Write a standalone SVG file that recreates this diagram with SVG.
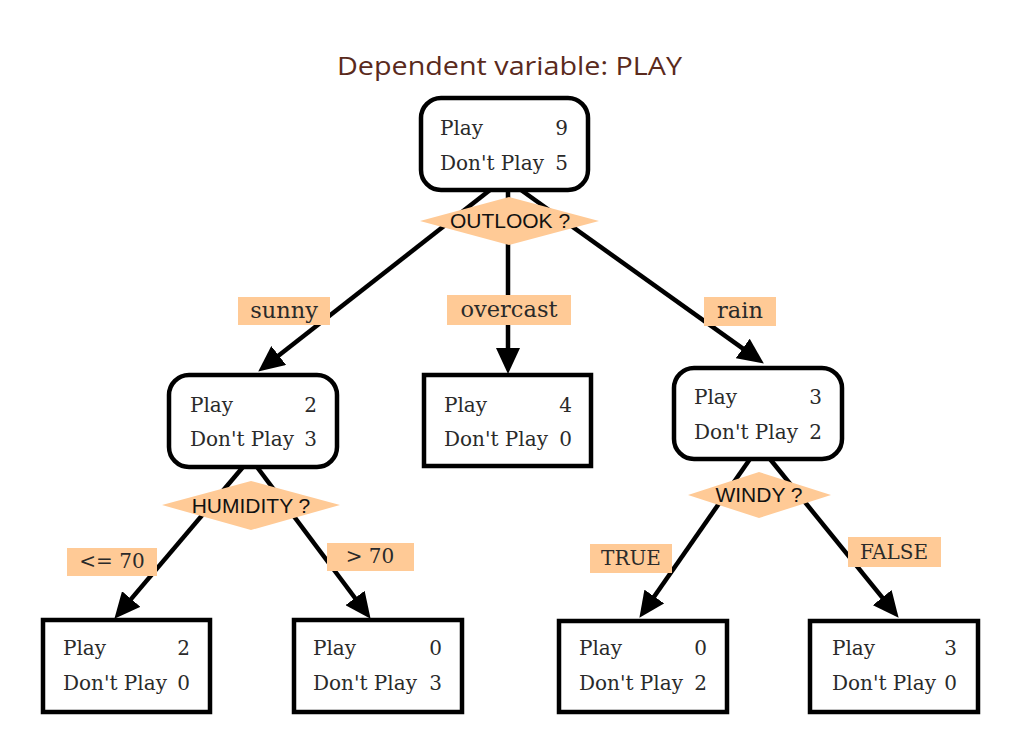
<svg xmlns="http://www.w3.org/2000/svg" width="1012" height="742" viewBox="0 0 1012 742">
<defs>
<marker id="arr" markerUnits="userSpaceOnUse" markerWidth="26" markerHeight="24" viewBox="0 0 26 24" refX="15" refY="12" orient="auto">
<path d="M0,0 L26,12 L0,24 z" fill="#000"/>
</marker>
</defs>
<style>
.title{font-family:"Open Sans","Liberation Sans",sans-serif;font-size:26px;fill:#5a2a1c}
.node{fill:#fff;stroke:#000;stroke-width:4.5}
.nt{font-family:"DejaVu Serif","Liberation Serif",serif;font-size:20px;fill:#2a2a2a}
.num{text-anchor:end}
.edge{fill:none;stroke:#000;stroke-width:4.5;marker-end:url(#arr)}
.lbl{fill:#ffca96}
.lt{font-family:"DejaVu Serif","Liberation Serif",serif;font-size:20px;fill:#2a2a2a;text-anchor:middle}
.big{font-size:22.5px}
.dia{fill:#ffca96}
.dt{font-family:"Liberation Sans",Arial,sans-serif;font-size:21px;fill:#111;text-anchor:middle}
</style>
<rect width="1012" height="742" fill="#fff"/>
<text class="title" x="337" y="75" textLength="345" lengthAdjust="spacingAndGlyphs">Dependent variable: PLAY</text>

<g id="connectors">
<path class="edge" d="M490,190 L266.9,364.8"/>
<path class="edge" d="M508,190 L508,363"/>
<path class="edge" d="M521,190 L754.9,357.2"/>
<path class="edge" d="M243,467 L121.5,610.4"/>
<path class="edge" d="M257,467 L364,610"/>
<path class="edge" d="M750,459 L645.7,608.8"/>
<path class="edge" d="M770,459 L891.7,609.2"/>
<g id="label-sunny"><rect class="lbl" x="238" y="297" width="92" height="28"/><text class="lt big" x="284" y="318">sunny</text></g>
<g id="label-overcast"><rect class="lbl" x="447" y="295" width="124" height="30"/><text class="lt big" x="509" y="317">overcast</text></g>
<g id="label-rain"><rect class="lbl" x="704" y="297" width="72" height="29"/><text class="lt big" x="740" y="318">rain</text></g>
<g id="label-le70"><rect class="lbl" x="67" y="548" width="90" height="28"/><text class="lt" x="112" y="568">&lt;= 70</text></g>
<g id="label-gt70"><rect class="lbl" x="327" y="543" width="87" height="28"/><text class="lt" x="370" y="563">&gt; 70</text></g>
<g id="label-true"><rect class="lbl" x="590" y="544" width="82" height="29"/><text class="lt" x="631" y="565">TRUE</text></g>
<g id="label-false"><rect class="lbl" x="848" y="537" width="93" height="30"/><text class="lt" x="894" y="559">FALSE</text></g>
</g>

<g id="split-outlook"><polygon class="dia" points="420,221 509,197 599,221 509,245"/><text class="dt" x="510" y="228">OUTLOOK ?</text></g>
<g id="split-humidity"><polygon class="dia" points="162,505 251,481 340,505 251,530"/><text class="dt" x="251" y="513">HUMIDITY ?</text></g>
<g id="split-windy"><polygon class="dia" points="688,495 759,472 831,495 759,518"/><text class="dt" x="759" y="502">WINDY ?</text></g>

<g id="node-root">
<rect class="node" x="421" y="98" width="167" height="92" rx="20"/>
<text class="nt" x="440" y="135">Play</text><text class="nt num" x="568" y="135">9</text>
<text class="nt" x="440" y="170">Don't Play</text><text class="nt num" x="568" y="170">5</text>
</g>
<g id="node-sunny">
<rect class="node" x="169" y="375" width="168" height="92" rx="20"/>
<text class="nt" x="190" y="412">Play</text><text class="nt num" x="317" y="412">2</text>
<text class="nt" x="190" y="446">Don't Play</text><text class="nt num" x="317" y="446">3</text>
</g>
<g id="node-overcast">
<rect class="node" x="424" y="375" width="167" height="91"/>
<text class="nt" x="444" y="412">Play</text><text class="nt num" x="572" y="412">4</text>
<text class="nt" x="444" y="446">Don't Play</text><text class="nt num" x="572" y="446">0</text>
</g>
<g id="node-rain">
<rect class="node" x="674" y="368" width="168" height="91" rx="20"/>
<text class="nt" x="694" y="404">Play</text><text class="nt num" x="822" y="404">3</text>
<text class="nt" x="694" y="439">Don't Play</text><text class="nt num" x="822" y="439">2</text>
</g>
<g id="node-le70">
<rect class="node" x="43" y="620" width="167" height="92"/>
<text class="nt" x="63" y="655">Play</text><text class="nt num" x="190" y="655">2</text>
<text class="nt" x="63" y="690">Don't Play</text><text class="nt num" x="190" y="690">0</text>
</g>
<g id="node-gt70">
<rect class="node" x="294" y="620" width="168" height="92"/>
<text class="nt" x="313" y="655">Play</text><text class="nt num" x="442" y="655">0</text>
<text class="nt" x="313" y="690">Don't Play</text><text class="nt num" x="442" y="690">3</text>
</g>
<g id="node-true">
<rect class="node" x="559" y="621" width="168" height="91"/>
<text class="nt" x="579" y="655">Play</text><text class="nt num" x="707" y="655">0</text>
<text class="nt" x="579" y="690">Don't Play</text><text class="nt num" x="707" y="690">2</text>
</g>
<g id="node-false">
<rect class="node" x="810" y="621" width="168" height="91"/>
<text class="nt" x="832" y="655">Play</text><text class="nt num" x="957" y="655">3</text>
<text class="nt" x="832" y="690">Don't Play</text><text class="nt num" x="957" y="690">0</text>
</g>
</svg>
